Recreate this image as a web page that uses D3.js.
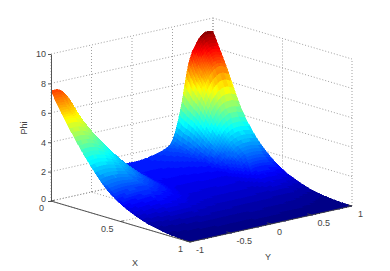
<!DOCTYPE html>
<html>
<head>
<meta charset="utf-8">
<script src="https://cdn.jsdelivr.net/npm/d3@7"></script>
<style>
  html, body { margin: 0; padding: 0; background: #fff; }
  svg { display: block; }
  text { font-family: "Liberation Sans", Arial, sans-serif; font-size: 9px; fill: #444; }
</style>
</head>
<body>
<div id="container"></div>
<script>
var width = 390,
    height = 271;

// values
var x_values = [0, .05, .1, .2, .3, .4, .5, .6, .7, .8, .9, 1];
var y_values = [-1, -.9, -.8, -.7, -.6, -.4, -.2, 0, .2, .4, .5, .6, .7, .8, .9, 1];
// one row per x value, one column per y value
var phi_values = [
  [7.5, 7.45, 6.9, 5.9, 4.85, 3.1, 1.65, 1.4, 1.5, 1.8, 2.3, 4.3, 7.3, 8.6, 9.15, 9.1],
  [6.6, 6.55, 6.1, 5.3, 4.4, 2.85, 1.55, 1.36, 1.45, 1.7, 2.1, 3.9, 6.3, 7.6, 8.1, 8.0],
  [5.8, 5.8, 5.5, 4.85, 4.1, 2.7, 1.5, 1.33, 1.4, 1.6, 1.95, 3.6, 5.6, 6.7, 7.1, 6.9],
  [4.3, 4.35, 4.2, 3.85, 3.4, 2.3, 1.35, 1.25, 1.28, 1.4, 1.6, 2.7, 3.95, 4.55, 4.65, 4.5],
  [3.0, 3.1, 3.05, 2.9, 2.65, 1.9, 1.2, 1.12, 1.15, 1.2, 1.3, 2.0, 2.76, 3.02, 3.04, 2.9],
  [1.9, 2.0, 2.05, 2.0, 1.95, 1.55, 1.05, .98, 1.0, 1.02, 1.05, 1.46, 1.89, 2.0, 1.97, 1.85],
  [1.2, 1.3, 1.35, 1.4, 1.4, 1.2, .9, .85, .85, .86, .85, 1.05, 1.26, 1.27, 1.2, 1.1],
  [.72, .82, .88, .95, 1.0, .9, .75, .7, .69, .68, .66, .75, .83, .8, .73, .65],
  [.38, .44, .5, .55, .58, .6, .54, .5, .5, .5, .47, .48, .49, .44, .38, .32],
  [.18, .21, .24, .27, .3, .33, .33, .33, .33, .32, .3, .28, .26, .22, .17, .13],
  [.06, .07, .09, .1, .12, .14, .15, .16, .16, .15, .14, .13, .11, .08, .06, .04],
  [0, 0, 0, 0, 0, 0, 0, 0, 0, 0, 0, 0, 0, 0, 0, 0]
];
var x_ticks = [0, .5, 1];
var y_ticks = [-1, -.5, 0, .5, 1];
var z_ticks = [0, 2, 4, 6, 8, 10];

var svg = d3.select("#container")
            .append("svg")
            .attr("width", width)
            .attr("height", height);

// oblique projection of the box
var x_to_px = d3.scaleLinear().domain([0, 1]).range([0, 139]),
    x_to_py = d3.scaleLinear().domain([0, 1]).range([0, 41]),
    y_to_px = d3.scaleLinear().domain([-1, 1]).range([0, 162]),
    y_to_py = d3.scaleLinear().domain([-1, 1]).range([0, -36]),
    z_scale = d3.scaleLinear().domain([0, 10]).range([201, 54]);

var left = 51;

function project(x, y, z){
  return [left + x_to_px(x) + y_to_px(y), z_scale(z) + x_to_py(x) + y_to_py(y)];
}

// jet colormap, 64 steps like the original figure
var jet = d3.scaleLinear()
            .domain([0, .125, .375, .625, .875, 1])
            .range(["#00007f", "#0000ff", "#00ffff", "#ffff00", "#ff0000", "#7f0000"]);
var color_scale = d3.scaleQuantize()
                    .domain([0, 9.2])
                    .range(d3.range(64).map(function(i){ return jet((i + .5) / 64); }));

// Grid
var grid = svg.append("g").attr("id", "grid")
              .attr("fill", "none")
              .attr("stroke", "#888")
              .attr("stroke-width", .8)
              .attr("stroke-dasharray", "1 2");

function grid_line(a, b){
  grid.append("line")
      .attr("x1", a[0]).attr("y1", a[1])
      .attr("x2", b[0]).attr("y2", b[1]);
}

z_ticks.forEach(function(z){
  grid_line(project(0, -1, z), project(0, 1, z));
  grid_line(project(0, 1, z), project(1, 1, z));
});
y_ticks.forEach(function(y){
  grid_line(project(0, y, 0), project(0, y, 10));
  grid_line(project(0, y, 0), project(1, y, 0));
});
x_ticks.forEach(function(x){
  grid_line(project(x, 1, 0), project(x, 1, 10));
  grid_line(project(x, -1, 0), project(x, 1, 0));
});

// Smooth shading: cubic hermite between the table values, for drawing only
function hermite(xs, vs, x){
  var i = Math.min(d3.bisectRight(xs, x) - 1, xs.length - 2);
  i = Math.max(i, 0);
  var h = xs[i + 1] - xs[i],
      u = (x - xs[i]) / h;
  function slope(k){
    var a = Math.max(k - 1, 0), b = Math.min(k + 1, xs.length - 1);
    return (vs[b] - vs[a]) / (xs[b] - xs[a]);
  }
  var u2 = u * u, u3 = u2 * u;
  return (2 * u3 - 3 * u2 + 1) * vs[i] + (u3 - 2 * u2 + u) * h * slope(i)
       + (-2 * u3 + 3 * u2) * vs[i + 1] + (u3 - u2) * h * slope(i + 1);
}

function refine(xs, n){
  var out = [];
  xs.slice(0, -1).forEach(function(x, i){
    d3.range(n).forEach(function(k){ out.push(x + (xs[i + 1] - x) * k / n); });
  });
  out.push(xs[xs.length - 1]);
  return out;
}

var fine_x = refine(x_values, 6),
    fine_y = refine(y_values, 6);

var fine_phi = fine_x.map(function(x){
  var column = y_values.map(function(y, j){
    return hermite(x_values, phi_values.map(function(row){ return row[j]; }), x);
  });
  return fine_y.map(function(y){ return Math.max(0, hermite(y_values, column, y)); });
});

// Surface, far corner first
var surface = svg.append("g").attr("id", "surface")
                 .attr("shape-rendering", "crispEdges");

for (var i = 0; i < fine_x.length - 1; i++) {
  for (var j = fine_y.length - 2; j >= 0; j--) {
    var corners = [[i, j], [i, j + 1], [i + 1, j + 1], [i + 1, j]];
    var col = color_scale(d3.mean(corners, function(c){ return fine_phi[c[0]][c[1]]; }));
    surface.append("polygon")
           .attr("points", corners.map(function(c){
             return project(fine_x[c[0]], fine_y[c[1]], fine_phi[c[0]][c[1]]).join(",");
           }).join(" "))
           .attr("fill", col)
           .attr("stroke", col)
           .attr("stroke-width", .5);
  }
}

// Axes
var axes = svg.append("g").attr("id", "axes");

var z_axis = d3.axisLeft(z_scale).tickValues(z_ticks).tickSize(3).tickPadding(2).tickSizeOuter(0);
axes.append("g")
    .attr("transform", "translate(" + left + ",0)")
    .call(z_axis)
    .call(function(g){
      g.selectAll("path, line").attr("stroke", "#555");
      g.selectAll("text").style("font-size", "9px").attr("fill", "#444").attr("font-family", null);
      // the 0 sits a little higher, clear of the X axis 0
      g.selectAll("text").filter(function(d){ return d === 0; }).attr("dy", "0.05em");
    });

function axis_line(a, b){
  axes.append("line")
      .attr("x1", a[0]).attr("y1", a[1])
      .attr("x2", b[0]).attr("y2", b[1])
      .attr("stroke", "#444")
      .attr("stroke-width", .9);
}

axis_line(project(0, -1, 0), project(1, -1, 0));
axis_line(project(1, -1, 0), project(1, 1, 0));

x_ticks.forEach(function(x){
  var p = project(x, -1, 0);
  axis_line(p, project(x, -.96, 0));
  axes.append("text")
      .attr("x", p[0] - 7)
      .attr("y", p[1] + 10)
      .attr("text-anchor", "end")
      .text(x);
});

y_ticks.forEach(function(y){
  var p = project(1, y, 0);
  axis_line(p, project(.97, y, 0));
  axes.append("text")
      .attr("x", p[0] + 6)
      .attr("y", p[1] + 11)
      .attr("text-anchor", "start")
      .text(y);
});

axes.append("text").attr("x", 135).attr("y", 266).attr("text-anchor", "middle").text("X");
axes.append("text").attr("x", 268).attr("y", 260).attr("text-anchor", "middle").text("Y");
axes.append("text")
    .attr("transform", "translate(27,128) rotate(-90)")
    .attr("text-anchor", "middle")
    .text("Phi");
</script>
</body>
</html>
